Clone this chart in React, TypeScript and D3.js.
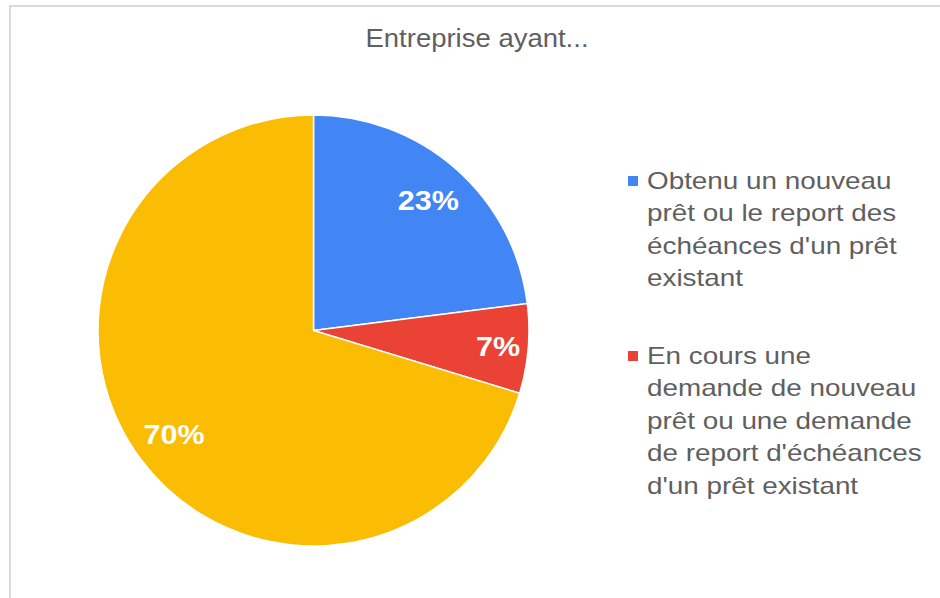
import React, { useEffect, useRef } from "react";
import * as d3 from "d3";

// slice data (share of firms, %)
const categories = [
  "Obtenu un nouveau prêt ou le report des échéances d'un prêt existant",
  "En cours une demande de nouveau prêt ou une demande de report d'échéances d'un prêt existant",
  "Autre",
];
const values = [23.0, 6.7, 70.3];
const colors = ["#4285f4", "#ea4335", "#fbbc04"];

// legend text, wrapped the way the original wraps it (last slice has no legend entry)
const legendLines = [
  ["Obtenu un nouveau", "prêt ou le report des", "échéances d'un prêt", "existant"],
  ["En cours une", "demande de nouveau", "prêt ou une demande", "de report d'échéances", "d'un prêt existant"],
];

const title = "Entreprise ayant...";

const W = 940;
const H = 598;

export default function App() {
  const ref = useRef<SVGSVGElement>(null);

  useEffect(() => {
    const svg = d3.select(ref.current);
    svg.selectAll("*").remove();

    // frame (only top and left edges show)
    svg
      .append("rect")
      .attr("x", 10)
      .attr("y", 6)
      .attr("width", W + 20)
      .attr("height", H + 20)
      .attr("fill", "#fff")
      .attr("stroke", "#d9d9d9")
      .attr("stroke-width", 2);

    // title
    svg
      .append("g")
      .attr("transform", "translate(477,46.5) scale(1.1,1)")
      .append("text")
      .attr("text-anchor", "middle")
      .attr("font-family", "'Liberation Sans', Arial, sans-serif")
      .attr("font-size", 25)
      .attr("fill", "#5f5f5f")
      .text(title);

    // pie
    const cx = 313.5;
    const cy = 330.5;
    const R = 215.5;
    const total = d3.sum(values);

    const pie = d3
      .pie<number>()
      .sort(null)
      .value((d) => d);
    const arcs = pie(values);
    const arc = d3.arc<d3.PieArcDatum<number>>().innerRadius(0).outerRadius(R);

    const g = svg.append("g").attr("transform", `translate(${cx},${cy})`);
    g.selectAll("path.slice")
      .data(arcs)
      .join("path")
      .attr("class", "slice")
      .attr("d", arc)
      .attr("fill", (_, i) => colors[i])
      .attr("stroke", "#fff")
      .attr("stroke-width", 1.5);

    // percent labels
    g.selectAll("g.lbl")
      .data(arcs)
      .join("g")
      .attr("class", "lbl")
      .attr("transform", (d) => {
        const share = d.value / total;
        const r = share < 0.1 ? R * 0.86 : R * 0.805;
        const a = (d.startAngle + d.endAngle) / 2;
        const x = Math.sin(a) * r;
        const y = -Math.cos(a) * r;
        return `translate(${x},${y + 10}) scale(1.09,1)`;
      })
      .append("text")
      .attr("text-anchor", "middle")
      .attr("font-family", "'Liberation Sans', Arial, sans-serif")
      .attr("font-weight", "bold")
      .attr("font-size", 28)
      .attr("fill", "#fff")
      .text((d) => `${Math.round((d.value / total) * 100)}%`);

    // legend
    const lineH = 32.4;
    const legendTop = [189, 364];
    legendLines.forEach((lines, i) => {
      const y0 = legendTop[i];
      svg
        .append("rect")
        .attr("x", 628)
        .attr("y", y0 - 13)
        .attr("width", 10)
        .attr("height", 10)
        .attr("fill", colors[i]);
      const t = svg
        .append("g")
        .attr("transform", `translate(647,${y0}) scale(1.16,1)`)
        .append("text")
        .attr("font-family", "'Liberation Sans', Arial, sans-serif")
        .attr("font-size", 24)
        .attr("fill", "#5f5f5f");
      t.append("title").text(categories[i]);
      lines.forEach((ln, j) => {
        t.append("tspan").attr("x", 0).attr("y", j * lineH).text(ln);
      });
    });
  }, []);

  return (
    <svg
      ref={ref}
      width={W}
      height={H}
      style={{ position: "absolute", left: 0, top: 0, background: "#fff" }}
    />
  );
}
